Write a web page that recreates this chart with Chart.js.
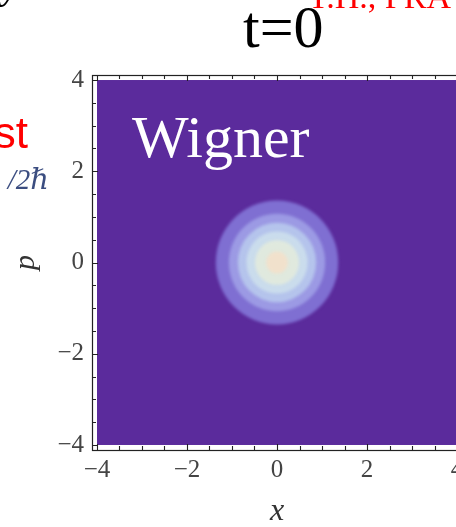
<!DOCTYPE html>
<html>
<head>
<meta charset="utf-8">
<script src="https://cdn.jsdelivr.net/npm/chart.js@4/dist/chart.umd.min.js"></script>
<style>
  html, body { margin: 0; padding: 0; background: #fff; overflow: hidden; width: 456px; height: 527px; }
  #wrap { position: absolute; left: 0; top: 0; width: 480px; height: 527px; }
</style>
</head>
<body>
<div id="wrap"><canvas id="c" width="480" height="527"></canvas></div>
<script>
// Phase-space window and axis ticks
const plotRange = [-4, 4];
const majorTicks = [-4, -2, 0, 2, 4];
const tickLabels = ['\u22124', '\u22122', '0', '2', '4'];
const minorTicks = [-3.5, -3, -2.5, -1.5, -1, -0.5, 0.5, 1, 1.5, 2.5, 3, 3.5];

// Wigner function of the initial state: centre and contour radii (outer to inner)
const packetCentre = [0, 0];
const contourRadii = [1.36, 1.07, 0.87, 0.68, 0.49, 0.24];
const contourColors = ['#7f6fd2', '#9c9ae4', '#b5c4ec', '#cadcec', '#e0e9de', '#f1e1cc'];
const backgroundColor = '#5b2b9c';

const SERIF = '"Liberation Serif", "DejaVu Serif", serif';
const SANS = '"Liberation Sans", Arial, sans-serif';

const contourPlugin = {
  id: 'contours',
  beforeDatasetsDraw(chart) {
    const { ctx, scales: { x, y } } = chart;
    const l = x.getPixelForValue(plotRange[0]), r = x.getPixelForValue(plotRange[1]);
    const t = y.getPixelForValue(plotRange[1]), b = y.getPixelForValue(plotRange[0]);
    ctx.save();
    ctx.beginPath();
    ctx.rect(l, t, r - l, b - t);
    ctx.clip();
    ctx.fillStyle = backgroundColor;
    ctx.fillRect(l, t, r - l, b - t);
    const pts = chart.getDatasetMeta(0).data;
    const cx = pts[0].x, cy = pts[0].y;
    ctx.filter = 'blur(1.5px)';
    contourRadii.forEach((rv, i) => {
      const rx = x.getPixelForValue(packetCentre[0] + rv) - cx;
      const ry = cy - y.getPixelForValue(packetCentre[1] + rv);
      ctx.beginPath();
      ctx.ellipse(cx, cy, rx, ry, 0, 0, Math.PI * 2);
      ctx.fillStyle = contourColors[i];
      ctx.fill();
    });
    ctx.filter = 'none';
    // panel label
    ctx.fillStyle = '#ffffff';
    ctx.font = '60px ' + SERIF;
    ctx.textBaseline = 'alphabetic';
    ctx.textAlign = 'left';
    ctx.fillText('Wigner', 132, 157);
    ctx.restore();
  },
  afterDraw(chart) {
    const { ctx, scales: { x, y }, chartArea: a } = chart;
    ctx.save();
    ctx.strokeStyle = '#222';
    ctx.lineWidth = 1.2;
    ctx.strokeRect(a.left + 0.5, a.top + 0.5, a.right - a.left, a.bottom - a.top);
    ctx.lineWidth = 1.1;
    const mark = (v, len) => {
      const px = Math.round(x.getPixelForValue(v)) + 0.5;
      const py = Math.round(y.getPixelForValue(v)) + 0.5;
      ctx.beginPath();
      ctx.moveTo(px, a.bottom); ctx.lineTo(px, a.bottom - len);
      ctx.moveTo(px, a.top); ctx.lineTo(px, a.top + len);
      ctx.moveTo(a.left, py); ctx.lineTo(a.left + len, py);
      ctx.stroke();
    };
    majorTicks.forEach(v => mark(v, 6));
    minorTicks.forEach(v => mark(v, 4));

    // surrounding slide text
    ctx.textBaseline = 'alphabetic';
    ctx.textAlign = 'left';
    ctx.fillStyle = '#000';
    ctx.font = '60px ' + SERIF;
    ctx.fillText('t=0', 243, 47);
    ctx.font = 'bold italic 36px ' + SERIF;
    ctx.fillText('y', 2, -1);
    ctx.fillStyle = '#ff0000';
    ctx.font = '34px ' + SERIF;
    ctx.fillText('T.H., PRA', 308, 8);
    ctx.font = '44px ' + SANS;
    ctx.textAlign = 'right';
    ctx.fillText('st', 28, 148);
    ctx.fillStyle = '#3b4d80';
    ctx.font = 'italic 29px ' + SERIF;
    ctx.fillText('/2\u210F', 49, 189);
    ctx.restore();
  }
};

const axisFont = { family: SERIF, size: 25 };

new Chart(document.getElementById('c'), {
  type: 'scatter',
  data: {
    datasets: [{
      data: [{ x: packetCentre[0], y: packetCentre[1] }],
      pointRadius: 0,
      pointHoverRadius: 0
    }]
  },
  options: {
    responsive: false,
    animation: false,
    devicePixelRatio: 1,
    events: [],
    layout: { padding: { top: 75, right: 18, left: 0, bottom: 0 } },
    plugins: { legend: { display: false }, tooltip: { enabled: false } },
    scales: {
      x: {
        type: 'linear',
        min: -4.11, max: 4.11,
        afterBuildTicks: s => { s.ticks = majorTicks.map(v => ({ value: v })); },
        afterFit: s => { s.height = 77; },
        grid: { drawOnChartArea: false, drawTicks: false },
        border: { display: false },
        ticks: {
          color: '#444', font: axisFont, padding: 5, maxRotation: 0, autoSkip: false,
          callback: v => tickLabels[majorTicks.indexOf(v)]
        },
        title: {
          display: true, text: 'x', color: '#333',
          font: { family: SERIF, size: 32, style: 'italic' },
          padding: { top: 15, bottom: -4 }
        }
      },
      y: {
        type: 'linear',
        min: -4.11, max: 4.11,
        afterBuildTicks: s => { s.ticks = majorTicks.map(v => ({ value: v })); },
        afterFit: s => { s.width = 92; },
        grid: { drawOnChartArea: false, drawTicks: false },
        border: { display: false },
        ticks: {
          color: '#444', font: axisFont, padding: 8, autoSkip: false,
          callback: v => tickLabels[majorTicks.indexOf(v)]
        },
        title: {
          display: true, text: 'p', color: '#333',
          font: { family: SERIF, size: 30, style: 'italic' },
          padding: { top: 8, bottom: 0 }
        }
      }
    }
  },
  plugins: [contourPlugin]
});
</script>
</body>
</html>
